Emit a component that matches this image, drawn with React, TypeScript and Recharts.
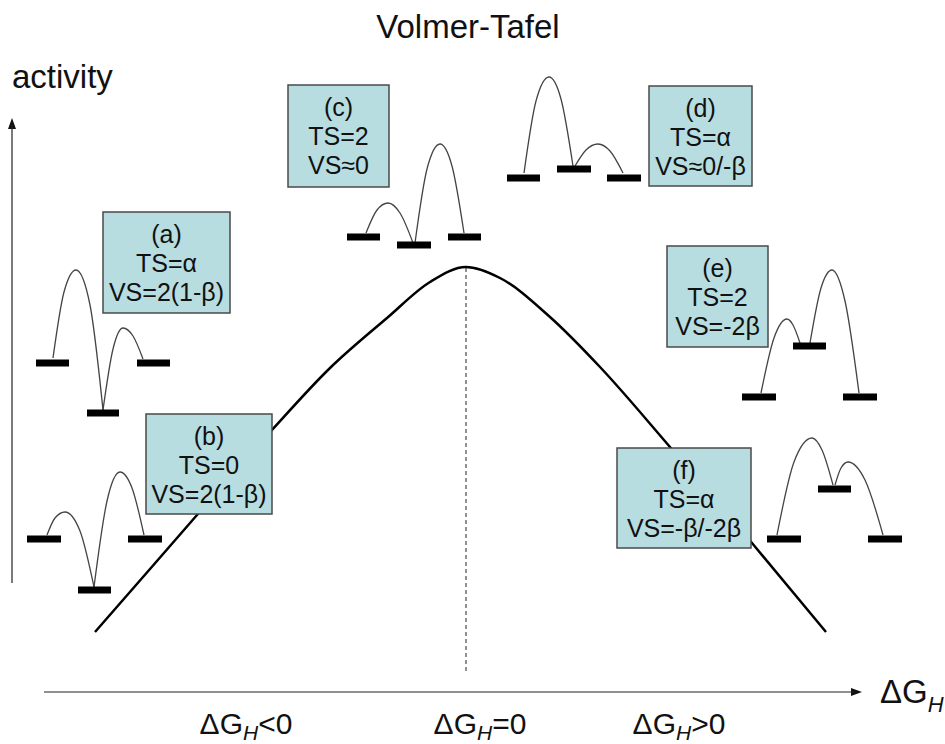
import { ComposedChart, Line, XAxis, YAxis, ReferenceLine, ReferenceArea, Customized } from "recharts";

const W = 945;
const H = 744;
const FONT = "'Liberation Sans', Arial, sans-serif";

// volcano curve, activity vs adsorption energy (picture units)
const volcano = [
  { x: 95, y: 632 },
  { x: 150, y: 569 },
  { x: 197, y: 515 },
  { x: 272, y: 430 },
  { x: 330, y: 368 },
  { x: 387, y: 318 },
  { x: 430, y: 282 },
  { x: 466, y: 267 },
  { x: 500, y: 278 },
  { x: 550, y: 317 },
  { x: 600, y: 367 },
  { x: 670, y: 447 },
  { x: 752, y: 543 },
  { x: 826, y: 632 },
];

const panelIds = ["(a)", "(b)", "(c)", "(d)", "(e)", "(f)"];
const panelTS = ["TS=α", "TS=0", "TS=2", "TS=α", "TS=2", "TS=α"];
const panelVS = ["VS=2(1-β)", "VS=2(1-β)", "VS≈0", "VS≈0/-β", "VS=-2β", "VS=-β/-2β"];

// box corners [x1, y1, x2, y2]
const panelBoxes = [
  [103, 212, 230, 313],
  [146, 414, 272, 514],
  [288, 85, 389, 187],
  [649, 86, 752, 186],
  [667, 246, 768, 347],
  [617, 448, 751, 548],
];

// energy levels per panel: [x1, x2, y]
const levels = [
  [[36, 69, 363], [87, 119, 413], [137, 170, 363]],
  [[27, 61, 539], [78, 111, 590], [128, 162, 539]],
  [[347, 380, 237], [397, 431, 245], [448, 481, 237]],
  [[507, 540, 178], [557, 591, 169], [607, 641, 178]],
  [[742, 776, 397], [793, 826, 346], [843, 877, 397]],
  [[767, 801, 539], [818, 851, 489], [868, 902, 539]],
];

// barriers: start, shoulder, top, shoulder, end
const barriers = [
  [[53, 358], [64, 292], [76, 270], [90, 305], [103, 410]],
  [[103, 410], [113, 349], [123, 328], [133, 336], [143, 359]],
  [[47, 535], [55, 518], [65, 512], [80, 531], [94, 587]],
  [[94, 587], [107, 501], [120, 472], [132, 488], [144, 535]],
  [[366, 233], [377, 210], [388, 203], [400, 213], [413, 243]],
  [[415, 243], [427, 169], [440, 144], [452, 166], [464, 233]],
  [[524, 173], [536, 101], [549, 77], [561, 99], [573, 166]],
  [[575, 166], [586, 150], [598, 144], [610, 151], [623, 173]],
  [[761, 393], [774, 338], [787, 319], [793, 325], [800, 343]],
  [[810, 343], [821, 288], [832, 270], [845, 301], [859, 393]],
  [[777, 535], [794, 462], [812, 438], [822, 450], [833, 485]],
  [[835, 485], [841, 468], [848, 462], [865, 480], [883, 535]],
].map((pts) => pts.map(([x, y]) => ({ x, y })));

const boxLabel = (lines: string[]) => (props: any) => {
  const vb = props.viewBox || {};
  const cx = vb.x + vb.width / 2;
  return (
    <text textAnchor="middle" fontFamily={FONT} fontSize={25} fill="#111">
      {lines.map((l, i) => (
        <tspan key={i} x={cx} y={vb.y + 31 + i * 29}>{l}</tspan>
      ))}
    </text>
  );
};

function Annotations() {
  return (
    <g fontFamily={FONT} fill="#111">
      <text x={468} y={38} fontSize={33} textAnchor="middle">Volmer-Tafel</text>
      <text x={12} y={88} fontSize={33}>activity</text>
      <polygon points="12,118 8,129 16,129" fill="#111" />
      <polygon points="862,692 851,688 851,696" fill="#111" />
      <text x={880} y={703} fontSize={33}>
        ΔG<tspan fontSize={22} fontStyle="italic" dy={9}>H</tspan>
      </text>
      {[["<0", 246], ["=0", 480], [">0", 679]].map(([s, x]) => (
        <text key={s} x={x} y={734} fontSize={30} textAnchor="middle">
          ΔG<tspan fontSize={21} fontStyle="italic" dy={6}>H</tspan>
          <tspan dy={-6}>{s}</tspan>
        </text>
      ))}
    </g>
  );
}

export default function App() {
  return (
    <div style={{ position: "absolute", left: 0, top: 0, width: W, height: H, background: "#fff" }}>
      <ComposedChart width={W} height={H} margin={{ top: 0, right: 0, bottom: 0, left: 0 }}>
        <XAxis type="number" dataKey="x" domain={[0, W]} hide />
        <YAxis type="number" domain={[0, H]} reversed hide />
        <ReferenceLine segment={[{ x: 12, y: 125 }, { x: 12, y: 583 }]} stroke="#222" strokeWidth={1.2} />
        <ReferenceLine segment={[{ x: 44, y: 692 }, { x: 855, y: 692 }]} stroke="#222" strokeWidth={1.2} />
        <ReferenceLine segment={[{ x: 466, y: 268 }, { x: 466, y: 672 }]} stroke="#222" strokeWidth={1} strokeDasharray="4 3" />
        <Line data={volcano} dataKey="y" type="monotone" stroke="#000" strokeWidth={2.5} dot={false} activeDot={false} isAnimationActive={false} />
        {barriers.map((b, i) => (
          <Line key={`b${i}`} data={b} dataKey="y" type="monotone" stroke="#444" strokeWidth={1.3} dot={false} activeDot={false} isAnimationActive={false} />
        ))}
        {levels.flat().map(([x1, x2, y], i) => (
          <ReferenceLine key={`l${i}`} segment={[{ x: x1, y }, { x: x2, y }]} stroke="#000" strokeWidth={7} />
        ))}
        {panelBoxes.map(([x1, y1, x2, y2], i) => (
          <ReferenceArea
            key={`p${i}`}
            x1={x1}
            x2={x2}
            y1={y1}
            y2={y2}
            fill="#b7dde1"
            fillOpacity={1}
            stroke="#4a4a4a"
            strokeWidth={1.5}
            zIndex={900}
            label={boxLabel([panelIds[i], panelTS[i], panelVS[i]])}
          />
        ))}
        <Customized component={Annotations} />
      </ComposedChart>
    </div>
  );
}
